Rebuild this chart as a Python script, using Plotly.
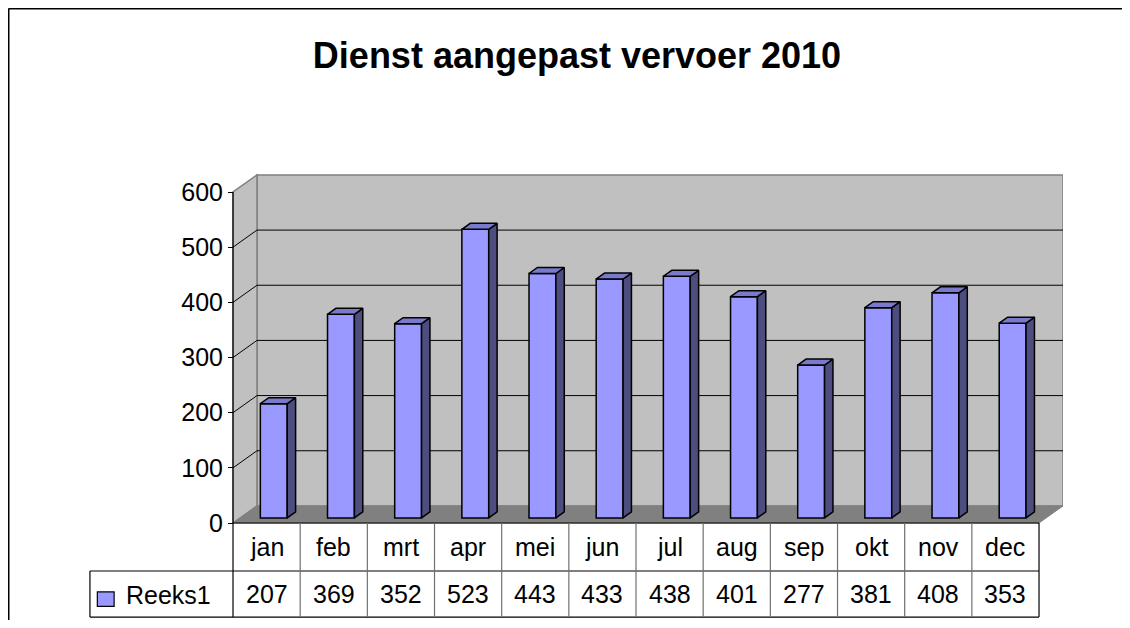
import plotly.graph_objects as go

# ---- data ----
title_text = "Dienst aangepast vervoer 2010"
series_name = "Reeks1"
months = ["jan", "feb", "mrt", "apr", "mei", "jun", "jul", "aug", "sep", "okt", "nov", "dec"]
values = [207, 369, 352, 523, 443, 433, 438, 401, 277, 381, 408, 353]
y_ticks = [0, 100, 200, 300, 400, 500, 600]

# ---- geometry / style ----
OFF = 8                       # page body margin of the browser
W, H = 1130 - 2 * OFF, 628 - 2 * OFF   # fit inside the window without scrollbars
L, T = 89 - OFF, 170 - OFF
R, B = W - (1063 - OFF), H - (620 - OFF)
PW, PH = W - L - R, H - T - B
X0, X1 = -2.644, 11.857
Y0, Y1 = -175.8, 639.9
DX, DY = 0.357, 31.0          # depth offset of the 3-D box (data units)
F0, F1 = 0.30, 0.65           # bar front / back depth fraction
BW = 0.40                     # bar width
YMAX = 600
FONT = "Liberation Sans, Arial, sans-serif"
FRONT, SIDE, TOP = "#9999FF", "#4D4D80", "#7A7ACC"
WALL, FLOOR, EDGE = "#C0C0C0", "#808080", "#808080"
n = len(months)
xl_edge, xr_edge = -0.5, n - 0.5


def px_to_paper_x(px):
    return (px - L) / PW


def px_to_paper_y(py):
    return (H - B - py) / PH


fig = go.Figure()

shapes = []
# back wall
shapes.append(dict(type="rect", xref="x", yref="y", x0=xl_edge + DX, x1=xr_edge + DX,
                   y0=DY, y1=YMAX + DY, fillcolor=WALL, line=dict(color=EDGE, width=1.5), layer="below"))
# side wall
shapes.append(dict(type="path", xref="x", yref="y",
                   path=f"M {xl_edge},0 L {xl_edge+DX},{DY} L {xl_edge+DX},{YMAX+DY} L {xl_edge},{YMAX} Z",
                   fillcolor=WALL, line=dict(color=EDGE, width=1.5), layer="below"))
# floor
shapes.append(dict(type="path", xref="x", yref="y",
                   path=f"M {xl_edge},0 L {xr_edge},0 L {xr_edge+DX},{DY} L {xl_edge+DX},{DY} Z",
                   fillcolor=FLOOR, line=dict(color=EDGE, width=1), layer="below"))
# gridlines
for v in y_ticks[1:-1]:
    shapes.append(dict(type="line", xref="x", yref="y", x0=xl_edge + DX, x1=xr_edge + DX,
                       y0=v + DY, y1=v + DY, line=dict(color="black", width=1), layer="below"))
    shapes.append(dict(type="line", xref="x", yref="y", x0=xl_edge, x1=xl_edge + DX,
                       y0=v, y1=v + DY, line=dict(color="black", width=1), layer="below"))
# value axis line
shapes.append(dict(type="line", xref="x", yref="y", x0=xl_edge, x1=xl_edge, y0=0, y1=YMAX,
                   line=dict(color="black", width=1.2)))

# data table
ROW1, ROW2 = -87.0, -170.5
LEG_L = -2.63
tbl = dict(color="black", width=1.2)
shapes.append(dict(type="line", xref="x", yref="y", x0=xl_edge, x1=xr_edge, y0=0, y1=0, line=tbl))
shapes.append(dict(type="line", xref="x", yref="y", x0=LEG_L, x1=xr_edge, y0=ROW1, y1=ROW1, line=tbl))
shapes.append(dict(type="line", xref="x", yref="y", x0=LEG_L, x1=xr_edge, y0=ROW2, y1=ROW2, line=tbl))
shapes.append(dict(type="line", xref="x", yref="y", x0=LEG_L, x1=LEG_L, y0=ROW1, y1=ROW2, line=tbl))
for k in range(n + 1):
    xe = xl_edge + k
    col = "black" if k in (0, n) else "#707070"
    shapes.append(dict(type="line", xref="x", yref="y", x0=xe, x1=xe, y0=0, y1=ROW2,
                       line=dict(color=col, width=1.2)))
# legend key
shapes.append(dict(type="rect", xref="x", yref="y", x0=-2.52, x1=-2.27, y0=-125.0, y1=-151.0,
                   fillcolor=FRONT, line=dict(color="black", width=1.2)))
# outer chart border: only its top and left sides fall on the page
border = dict(color="black", width=2)
shapes.append(dict(type="line", xref="paper", yref="paper",
                   x0=px_to_paper_x(0.5), x1=px_to_paper_x(W + 20),
                   y0=px_to_paper_y(0.5), y1=px_to_paper_y(0.5), line=border))
shapes.append(dict(type="line", xref="paper", yref="paper",
                   x0=px_to_paper_x(0.5), x1=px_to_paper_x(0.5),
                   y0=px_to_paper_y(0.5), y1=px_to_paper_y(H + 20), line=border))

# ---- bars ----
centers = [i + F0 * DX for i in range(n)]
base = F0 * DY
ddx, ddy = (F1 - F0) * DX, (F1 - F0) * DY

side_x, side_y, top_x, top_y = [], [], [], []
for c, v in zip(centers, values):
    xl, xr = c - BW / 2, c + BW / 2
    yt = v + base
    side_x += [xr, xr + ddx, xr + ddx, xr, xr, None]
    side_y += [base, base + ddy, yt + ddy, yt, base, None]
    top_x += [xl, xr, xr + ddx, xl + ddx, xl, None]
    top_y += [yt, yt, yt + ddy, yt + ddy, yt, None]

fig.add_trace(go.Bar(x=centers, y=values, base=base, width=BW, name=series_name,
                     marker=dict(color=FRONT, line=dict(color="black", width=1.5)),
                     hoverinfo="skip"))
fig.add_trace(go.Scatter(x=side_x, y=side_y, mode="lines", fill="toself", fillcolor=SIDE,
                         line=dict(color="black", width=1.5), hoverinfo="skip"))
fig.add_trace(go.Scatter(x=top_x, y=top_y, mode="lines", fill="toself", fillcolor=TOP,
                         line=dict(color="black", width=1.5), hoverinfo="skip"))

# ---- table text ----
ann = []
for i, (m, v) in enumerate(zip(months, values)):
    ann.append(dict(x=i, y=-44, xref="x", yref="y", text=m, showarrow=False,
                    font=dict(family=FONT, size=25, color="black"), xanchor="center", yanchor="middle"))
    ann.append(dict(x=i, y=-129, xref="x", yref="y", text=str(v), showarrow=False,
                    font=dict(family=FONT, size=25, color="black"), xanchor="center", yanchor="middle"))
ann.append(dict(x=-2.13, y=-131, xref="x", yref="y", text=series_name, showarrow=False,
                font=dict(family=FONT, size=25, color="black"), xanchor="left", yanchor="middle"))

fig.update_layout(
    width=W, height=H,
    margin=dict(l=L, r=R, t=T, b=B, pad=0),
    paper_bgcolor="white", plot_bgcolor="white",
    showlegend=False,
    title=dict(text=title_text, x=(577 - OFF) / W, y=1 - (55 - OFF) / H, xanchor="center", yanchor="middle",
               xref="container", yref="container",
               font=dict(family=FONT, size=36, color="black", weight="bold")),
    xaxis=dict(range=[X0, X1], visible=False, fixedrange=True),
    yaxis=dict(range=[Y0, Y1], anchor="free", position=px_to_paper_x(233 - OFF),
               tickvals=y_ticks, ticktext=[str(t) for t in y_ticks],
               ticks="outside", ticklen=5, tickwidth=1, tickcolor="black",
               tickfont=dict(family=FONT, size=25, color="black"),
               showgrid=False, zeroline=False, showline=False, fixedrange=True),
    shapes=shapes, annotations=ann,
    hovermode=False,
)

fig.write_html("out.html")
